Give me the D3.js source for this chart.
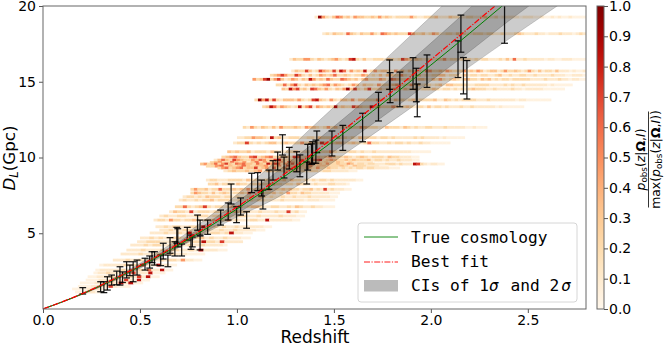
<!DOCTYPE html>
<html>
<head>
<meta charset="utf-8">
<script src="https://cdn.jsdelivr.net/npm/d3@7"></script>
<style>
    html, body { margin: 0; padding: 0; background: #fff; }
    svg { display: block; }
    text { font-family: "DejaVu Sans", sans-serif; fill: #000; }
    .legend-text { font-family: "DejaVu Sans Mono", monospace; font-size: 16.2px; }
</style>
</head>
<body>
<div id="chart"></div>
<script>
// Curve samples (Gpc)
const curveZ = [0, 0.2, 0.4, 0.6, 0.8, 1.0, 1.2, 1.4, 1.6, 1.8, 2.0, 2.2, 2.4, 2.6, 2.8];
const trueCosmology = [0, 0.98, 2.16, 3.5, 4.98, 6.6, 8.34, 10.17, 12.08, 14.06, 16.1, 18.2, 20.35, 22.5, 24.7];
const bestFit = [0, 1.0, 2.2, 3.57, 5.08, 6.73, 8.5, 10.36, 12.32, 14.35, 16.45, 18.6, 20.75, 23.0, 25.3];
const upper2s = [0, 1.02, 2.3, 3.8, 5.55, 7.55, 9.75, 12.15, 14.5, 16.9, 19.3, 21.7, 24.1, 26.5, 28.9];
const lower2s = [0, 0.95, 2.05, 3.35, 4.75, 6.07, 7.3, 8.85, 10.63, 12.4, 14.2, 16.0, 17.8, 19.55, 21.3];
const upper1s = [0, 1.0, 2.23, 3.65, 5.25, 7.05, 9.0, 11.0, 13.1, 15.3, 17.55, 19.85, 22.2, 24.6, 27.0];
const lower1s = [0, 0.96, 2.1, 3.42, 4.82, 6.3, 7.87, 9.52, 11.3, 13.15, 15.05, 17.0, 19.0, 20.9, 22.9];

// Error bars: z, low, high
const errorBars = [
    [0.205, 0.99, 1.41], [0.297, 1.14, 1.8], [0.314, 1.08, 1.8], [0.332, 1.25, 2.13], [0.354, 1.58, 2.24],
    [0.38, 1.6, 2.5], [0.397, 1.58, 2.79], [0.41, 1.75, 2.45], [0.431, 2.05, 3.12], [0.448, 2.2, 2.9],
    [0.465, 1.8, 3.12], [0.485, 2.24, 3.23], [0.526, 2.57, 3.35], [0.55, 2.7, 3.5], [0.562, 3.06, 3.78],
    [0.575, 2.9, 3.78], [0.607, 2.86, 3.56], [0.62, 3.3, 4.34], [0.644, 2.79, 3.56], [0.655, 3.68, 4.71],
    [0.68, 3.5, 4.44], [0.69, 4.34, 5.39], [0.695, 4.1, 5.3], [0.715, 3.5, 4.29], [0.744, 4.55, 5.39],
    [0.763, 3.94, 4.88], [0.77, 4.1, 4.75], [0.797, 5.2, 6.2], [0.81, 4.88, 5.87], [0.81, 3.9, 4.82],
    [0.849, 4.93, 5.87], [0.916, 5.54, 6.53], [0.955, 5.87, 7.0], [0.97, 6.93, 8.25], [0.998, 5.7, 6.75],
    [1.019, 6.2, 7.33], [1.05, 5.33, 6.42], [1.076, 7.68, 8.96], [1.107, 7.81, 9.0], [1.127, 7.46, 8.51],
    [1.134, 6.6, 7.85], [1.165, 7.9, 9.17], [1.186, 8.51, 9.79], [1.21, 9.17, 10.36], [1.235, 10.16, 11.5],
    [1.243, 8.65, 10.03], [1.27, 9.24, 10.67], [1.308, 9.06, 10.38], [1.325, 8.73, 10.17], [1.36, 8.25, 9.7],
    [1.365, 9.17, 10.87], [1.385, 9.55, 10.9], [1.39, 9.62, 11.04], [1.407, 9.62, 11.15], [1.412, 10.32, 11.75],
    [1.49, 10.1, 11.75], [1.546, 10.47, 12.12], [1.648, 11.04, 12.92], [1.73, 12.41, 14.3], [1.787, 14.5, 16.44],
    [1.79, 13.62, 15.6], [1.84, 13.35, 15.64], [1.908, 14.5, 16.59], [1.925, 13.68, 15.89], [1.93, 12.69, 14.85],
    [1.98, 14.63, 16.77], [2.14, 15.28, 17.7], [2.155, 16.95, 19.4], [2.168, 14.2, 16.6], [2.186, 13.86, 16.4],
    [2.38, 17.54, 21.0]
];

// Posterior strips: D_L, z from, z to, cell levels 0-9
const stripRows = [
    [19.27, 1.40, 2.80, "29532465342544334353432333353223334222433223322342231222221222112112121121111"],
    [18.17, 1.44, 2.80, "23243326432433532654343337533423542233243322333233223222343222322122232221232"],
    [16.48, 1.27, 2.80, "2433553243234532378324223332432375434323223352332333232332223242622322222122112221111"],
    [15.71, 1.28, 2.80, "24337423754373862534382353443253424343255334354333534354234423533432353242332422212112"],
    [15.43, 1.17, 2.80, "345753375324235434633432335423242443353233423233442333242332332234223223322322223222112221"],
    [15.16, 1.08, 2.80, "53479357423542438534364336543424533354265433432443243532343244332434232332333332222322232212211"],
    [14.79, 1.20, 2.73, "3363573243434563543235424332533345333534233234244333322333322223232232222221211111"],
    [14.52, 1.23, 2.69, "4385734276435324359473247334233542433423334323323232343332232222322122222111111"],
    [13.8, 1.09, 2.62, "39583732444353237843253244352443335323243323423333422432323333222322222221221111111"],
    [13.35, 1.13, 2.48, "3486354323835725434383433754338453335423432332423323222322322222212111111"],
    [11.99, 1.03, 2.29, "3253243242533343254432353423343354333224333243232233222322222112111"],
    [11.31, 1.0, 2.175, "22335443283422333223324333253323243333233232222232322221211111"],
    [10.96, 0.98, 2.10, "2337323234423433353423743344234323633223233232232211111"],
    [10.38, 0.95, 2.0, "4343342333243223342232233353222332322322222222211111"],
    [10.03, 0.92, 1.94, "34564336734563444376345343454334323432333243322211"],
    [9.83, 0.88, 1.94, "2464375433546534784343364356734543343433342332322322211"],
    [9.67, 0.86, 1.70, "3453364352463534453643344233433432322222"],
    [9.57, 0.81, 2.07, "4534635743656443643857635463543734435334335423323322233323222873212211"],
    [9.43, 0.84, 1.78, "33563434643445345263443534433343243322211"],
    [9.31, 0.90, 1.84, "35634563447345263353464344353343323232332332222111"],
    [9.12, 0.93, 1.62, "2343343452433343433233233222211"],
    [8.51, 0.84, 1.65, "2332223333243322332334243323232332322222211"],
    [8.25, 0.85, 1.58, "3342333243323343345332332433223222332221"],
    [7.9, 0.76, 1.59, "3533423363334343533343523343433233423272322211"],
    [7.66, 0.76, 1.53, "354332423432334362243334232533243322222111"],
    [7.41, 0.72, 1.52, "23323243332332322332432322322322232222211"],
    [7.19, 0.70, 1.505, "2322323342333223233233222232222212221111"],
    [6.75, 0.68, 1.505, "3363234732332343323443223322324322322111"],
    [6.42, 0.65, 1.36, "2433272333233233433322322232272311"],
    [6.14, 0.60, 1.35, "232233223332332322332232222322211"],
    [5.87, 0.57, 1.325, "23325332334323342335232223322822222211"],
    [5.43, 0.58, 1.18, "2232332233282232322322222211"],
    [5.21, 0.60, 1.145, "22322332323223223222211"],
    [5.02, 0.55, 1.08, "2223223282322332382211"],
    [4.69, 0.50, 1.07, "223232233232342322322211"],
    [4.44, 0.485, 1.03, "22333223323233833272222"],
    [4.22, 0.45, 0.95, "2223233223322322322221"],
    [3.89, 0.43, 0.95, "222322232332232822211"],
    [3.63, 0.40, 0.835, "2222322232232221111"],
    [3.23, 0.36, 0.82, "222322322223233252211"],
    [2.9, 0.29, 0.69, "1222223232722282211"],
    [2.57, 0.27, 0.67, "122222322232622811"],
    [2.38, 0.26, 0.63, "12232222272228111"],
    [2.13, 0.23, 0.60, "1122232223272811"],
    [1.91, 0.22, 0.55, "111222322721811"],
    [1.72, 0.19, 0.515, "1112223282811"],
    [1.49, 0.18, 0.45, "111222272111"],
    [1.32, 0.15, 0.33, "1112221"],
    [1.12, 0.165, 0.295, "11221"]
];

// Colormap position of each cell level
const cellLevels = [0, 0.04, 0.11, 0.21, 0.33, 0.47, 0.6, 0.72, 0.84, 0.95];

const xTicks = [0, 0.5, 1.0, 1.5, 2.0, 2.5];
const yTicks = [5, 10, 15, 20];
const colorTicks = [0, 0.1, 0.2, 0.3, 0.4, 0.5, 0.6, 0.7, 0.8, 0.9, 1.0];

const width = 664, height = 348;
const plot = { left: 43, right: 586, top: 6, bottom: 309 };
const cbar = { left: 597, right: 604 };

const x = d3.scaleLinear().domain([0, 2.8]).range([plot.left, plot.right]);
const y = d3.scaleLinear().domain([0, 20]).range([plot.bottom, plot.top]);
const cy = d3.scaleLinear().domain([0, 1]).range([plot.bottom, plot.top]);

const svg = d3.select('#chart').append('svg')
    .attr('width', width)
    .attr('height', height);

svg.append('clipPath').attr('id', 'plot-clip')
    .append('rect')
    .attr('x', plot.left).attr('y', plot.top)
    .attr('width', plot.right - plot.left).attr('height', plot.bottom - plot.top);

const g = svg.append('g').attr('clip-path', 'url(#plot-clip)');

// Strips, one rect per cell
stripRows.forEach(([dl, z0, z1, cells]) => {
    const values = cells.split('').map(Number);
    const cellZ = (z1 - z0) / values.length;
    g.append('g').selectAll('rect')
        .data(values)
        .enter()
        .append('rect')
        .attr('x', (d, i) => x(z0 + i * cellZ))
        .attr('y', y(dl) - 1.4)
        .attr('width', x(cellZ) - x(0) + 0.3)
        .attr('height', 2.8)
        .attr('fill', d => d3.interpolateOrRd(cellLevels[d]));
});

// Error bars
const bars = g.append('g').selectAll('g')
    .data(errorBars)
    .enter()
    .append('g')
    .attr('stroke', '#000')
    .attr('stroke-width', 1.25)
    .attr('stroke-opacity', 0.9);
bars.append('line')
    .attr('x1', d => x(d[0])).attr('x2', d => x(d[0]))
    .attr('y1', d => y(d[1])).attr('y2', d => y(d[2]));
bars.append('line')
    .attr('x1', d => x(d[0]) - 3.4).attr('x2', d => x(d[0]) + 3.4)
    .attr('y1', d => y(d[1])).attr('y2', d => y(d[1]));
bars.append('line')
    .attr('x1', d => x(d[0]) - 3.4).attr('x2', d => x(d[0]) + 3.4)
    .attr('y1', d => y(d[2])).attr('y2', d => y(d[2]));

// Confidence bands
const band = d3.area()
    .x((d, i) => x(curveZ[i]))
    .y0(d => y(d[0]))
    .y1(d => y(d[1]))
    .curve(d3.curveMonotoneX);
[[lower2s, upper2s], [lower1s, upper1s]].forEach(([lo, hi]) => {
    g.append('path')
        .attr('d', band(lo.map((v, i) => [v, hi[i]])))
        .attr('fill', '#000')
        .attr('fill-opacity', 0.2)
        .attr('stroke', '#000')
        .attr('stroke-opacity', 0.2)
        .attr('stroke-width', 0.8);
});

// Curves
const curve = d3.line()
    .x((d, i) => x(curveZ[i]))
    .y(d => y(d))
    .curve(d3.curveMonotoneX);
g.append('path').attr('d', curve(trueCosmology))
    .attr('fill', 'none').attr('stroke', 'green').attr('stroke-width', 1);
g.append('path').attr('d', curve(bestFit))
    .attr('fill', 'none').attr('stroke', 'red').attr('stroke-width', 1.2)
    .attr('stroke-dasharray', '6,1.5,1.2,1.5');

// Axes
const styleAxis = sel => {
    sel.select('.domain').remove();
    sel.selectAll('.tick line').attr('stroke', '#555');
    sel.selectAll('.tick text').attr('font-size', 14).attr('font-family', '"DejaVu Sans", sans-serif');
};
svg.append('g')
    .attr('transform', `translate(0,${plot.bottom})`)
    .call(d3.axisBottom(x).tickValues(xTicks).tickFormat(d3.format('.1f')).tickSize(4).tickPadding(2))
    .call(styleAxis);
svg.append('g')
    .attr('transform', `translate(${plot.left},0)`)
    .call(d3.axisLeft(y).tickValues(yTicks).tickFormat(d3.format('d')).tickSize(4).tickPadding(3))
    .call(styleAxis);

svg.append('rect')
    .attr('x', plot.left).attr('y', plot.top)
    .attr('width', plot.right - plot.left).attr('height', plot.bottom - plot.top)
    .attr('fill', 'none').attr('stroke', '#666').attr('stroke-width', 1);

svg.append('text')
    .attr('x', 315).attr('y', 343)
    .attr('text-anchor', 'middle').attr('font-size', 17)
    .text('Redshift');

const yLabel = svg.append('text')
    .attr('transform', 'translate(15,158) rotate(-90)')
    .attr('text-anchor', 'middle').attr('font-size', 16.7);
yLabel.append('tspan').attr('font-style', 'italic').text('D');
yLabel.append('tspan').attr('font-style', 'italic').attr('font-size', 11.7).attr('dy', 3).text('L');
yLabel.append('tspan').attr('dy', -3).text('(Gpc)');

// Colorbar
const grad = svg.append('linearGradient').attr('id', 'orrd')
    .attr('x1', 0).attr('x2', 0).attr('y1', 1).attr('y2', 0);
grad.selectAll('stop')
    .data(d3.range(0, 1.001, 0.05))
    .enter()
    .append('stop')
    .attr('offset', d => d)
    .attr('stop-color', d => d3.interpolateOrRd(d));
svg.append('rect')
    .attr('x', cbar.left).attr('y', plot.top)
    .attr('width', cbar.right - cbar.left).attr('height', plot.bottom - plot.top)
    .attr('fill', 'url(#orrd)').attr('stroke', '#666').attr('stroke-width', 1);
svg.append('g')
    .attr('transform', `translate(${cbar.right},0)`)
    .call(d3.axisRight(cy).tickValues(colorTicks).tickFormat(d3.format('.1f')).tickSize(4).tickPadding(1))
    .call(styleAxis);

// Colorbar label, stacked fraction
const fraction = svg.append('g').attr('transform', 'translate(648.5,159.5) rotate(-90)');
const addMath = (baseline) => {
    return fraction.append('text')
        .attr('y', baseline).attr('text-anchor', 'middle').attr('font-size', 12.4);
};
const pObs = (t) => {
    t.append('tspan').attr('font-style', 'italic').text('p');
    t.append('tspan').attr('font-size', 8.8).attr('dy', 2.5).text('obs');
    t.append('tspan').attr('dy', -2.5).text('(');
    t.append('tspan').attr('font-style', 'italic').text('z');
    t.append('tspan').text('|');
    t.append('tspan').attr('font-weight', 'bold').text('Ω');
    t.append('tspan').text(',');
    t.append('tspan').attr('font-style', 'italic').text('I');
    t.append('tspan').text(')');
};
pObs(addMath(-4));
const denominator = addMath(11);
denominator.append('tspan').text('max(');
pObs(denominator);
denominator.append('tspan').text(')');
fraction.append('line')
    .attr('x1', -48).attr('x2', 48).attr('y1', 0).attr('y2', 0)
    .attr('stroke', '#000').attr('stroke-width', 0.8);

// Legend
const legend = svg.append('g');
legend.append('rect')
    .attr('x', 358).attr('y', 223).attr('width', 219).attr('height', 79).attr('rx', 3)
    .attr('fill', '#fff').attr('fill-opacity', 0.8)
    .attr('stroke', '#ccc').attr('stroke-width', 0.8);
legend.append('line')
    .attr('x1', 364).attr('x2', 398).attr('y1', 237).attr('y2', 237)
    .attr('stroke', 'green').attr('stroke-width', 0.9);
legend.append('line')
    .attr('x1', 364).attr('x2', 398).attr('y1', 262).attr('y2', 262)
    .attr('stroke', 'red').attr('stroke-width', 0.9).attr('stroke-dasharray', '6,1.5,1.2,1.5');
legend.append('rect')
    .attr('x', 364).attr('y', 280).attr('width', 34).attr('height', 11.5)
    .attr('fill', '#bbb');
legend.append('text').attr('class', 'legend-text').attr('x', 411).attr('y', 242.5).text('True cosmology');
legend.append('text').attr('class', 'legend-text').attr('x', 411).attr('y', 267).text('Best fit');
const ciText = legend.append('text').attr('class', 'legend-text').attr('x', 411).attr('y', 291);
ciText.append('tspan').text('CIs of 1');
ciText.append('tspan').attr('font-style', 'italic').text('σ');
ciText.append('tspan').attr('dx', 2).text(' and 2');
ciText.append('tspan').attr('font-style', 'italic').attr('dx', 2).text('σ');
</script>
</body>
</html>
